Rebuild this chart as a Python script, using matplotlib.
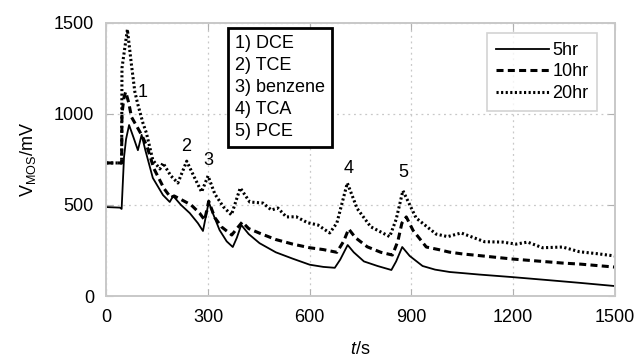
import numpy as np
import matplotlib
matplotlib.use('Agg')
import matplotlib.pyplot as plt

plt.rcParams['font.family'] = ['Liberation Sans', 'DejaVu Sans']
plt.rcParams['mathtext.fontset'] = 'custom'
plt.rcParams['mathtext.rm'] = 'Liberation Sans'
plt.rcParams['mathtext.it'] = 'Liberation Sans:italic'

# (t in s, V in mV)
t_5 = [0, 40, 45, 48, 52, 58, 67, 80, 93, 104, 115, 137, 167, 187, 197, 220, 246, 270,
       285, 302, 315, 334, 355, 373, 385, 398, 420, 452, 500, 550, 600, 640, 674, 690,
       712, 730, 760, 800, 841, 855, 873, 895, 933, 970, 1013, 1051, 1100, 1198, 1300,
       1400, 1500]
v_5 = [488, 485, 478, 600, 760, 860, 938, 870, 800, 884, 800, 648, 554, 516, 549, 500,
       455, 400, 357, 516, 450, 362, 300, 269, 320, 390, 340, 290, 240, 205, 172, 160,
       155, 200, 280, 240, 190, 165, 143, 190, 269, 220, 165, 145, 132, 126, 118, 104,
       88, 72, 55]

t_10 = [0, 45, 46, 52, 57, 66, 74, 93, 105, 120, 140, 170, 190, 200, 220, 250, 275, 290,
        302, 320, 340, 370, 385, 401, 420, 452, 500, 550, 600, 640, 680, 700, 715, 735,
        770, 810, 844, 860, 872, 885, 905, 944, 980, 1012, 1051, 1100, 1199, 1300, 1346,
        1400, 1500]
v_10 = [730, 730, 1000, 1090, 1120, 1060, 982, 920, 880, 820, 700, 590, 540, 549, 530,
        500, 455, 417, 520, 430, 379, 335, 370, 406, 370, 345, 310, 285, 265, 255, 240,
        300, 368, 320, 270, 240, 225, 300, 400, 434, 360, 269, 255, 241, 231, 222, 203,
        188, 181, 175, 159]

t_20 = [0, 45, 46, 49, 62, 74, 84, 93, 108, 118, 137, 158, 167, 190, 211, 237, 260, 281,
        300, 320, 345, 369, 395, 423, 462, 487, 506, 531, 560, 594, 624, 659, 680, 711,
        740, 780, 836, 855, 875, 914, 973, 1007, 1047, 1116, 1169, 1209, 1243, 1287,
        1346, 1396, 1450, 1500]
v_20 = [730, 730, 1250, 1290, 1462, 1268, 1120, 1050, 948, 895, 746, 697, 730, 660, 620,
        740, 650, 571, 659, 560, 490, 445, 593, 516, 510, 472, 483, 434, 435, 402, 390,
        346, 400, 620, 480, 380, 326, 420, 578, 428, 340, 326, 346, 298, 296, 285, 296,
        265, 269, 243, 232, 220]

peak_labels = ['1', '2', '3', '4', '5']
peak_t = [108, 235, 300, 715, 877]
peak_v = [1115, 818, 746, 700, 680]
compounds = ['1) DCE', '2) TCE', '3) benzene', '4) TCA', '5) PCE']

fig = plt.figure(figsize=(6.37, 3.58), dpi=100)
ax = fig.add_axes([0.167, 0.173, 0.798, 0.764])

ax.plot(t_5, v_5, color='black', lw=1.3, label='5hr')
ax.plot(t_10, v_10, color='black', lw=2.2, dashes=(2.3, 1.4), label='10hr')
ax.plot(t_20, v_20, color='black', lw=2.2, dashes=(0.7, 0.8), label='20hr')

for lab, x, y in zip(peak_labels, peak_t, peak_v):
    ax.text(x, y, lab, fontsize=13, ha='center', va='center')

ax.text(0.2527, 0.955, '\n'.join(compounds), transform=ax.transAxes, fontsize=13,
        ha='left', va='top', linespacing=1.38,
        bbox=dict(boxstyle='square,pad=0.4', fc='white', ec='black', lw=2))

leg = ax.legend(loc='upper right', bbox_to_anchor=(0.966, 0.962), fontsize=13,
                frameon=True, fancybox=False, handlelength=2.9, handletextpad=0.2,
                labelspacing=0.25, borderpad=0.5, borderaxespad=0)
leg.get_frame().set_edgecolor('#c8c8c8')
leg.get_frame().set_linewidth(1.2)

ax.set_xlim(0, 1500)
ax.set_ylim(0, 1500)
ax.set_xticks([0, 300, 600, 900, 1200, 1500])
ax.set_yticks([0, 500, 1000, 1500])
ax.grid(True, linestyle=(0, (1.5, 3)), color='#c8c8c8', lw=0.9)
ax.set_axisbelow(True)
for s in ax.spines.values():
    s.set_color('#c8c8c8')
    s.set_linewidth(1.4)
ax.tick_params(direction='in', length=5, color='#b0b0b0', labelsize=13,
               top=True, right=True, pad=9)

ax.set_xlabel('$t$/s', fontsize=13)
ax.set_ylabel(r'V$_{\mathrm{MOS}}$/mV', fontsize=13)
ax.xaxis.set_label_coords(0.5, -0.165)
ax.yaxis.set_label_coords(-0.135, 0.5)

fig.savefig('out.png', dpi=100)
